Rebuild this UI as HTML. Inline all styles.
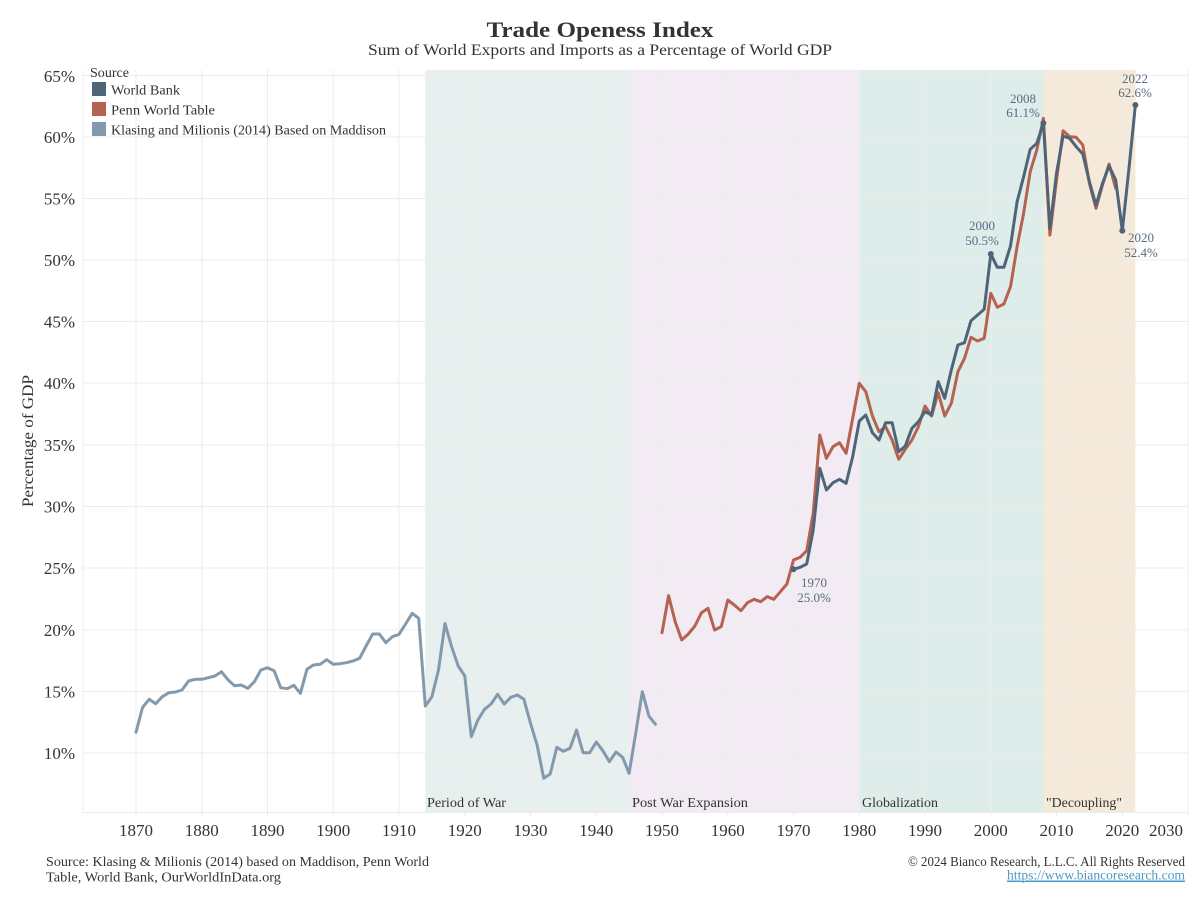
<!DOCTYPE html>
<html><head><meta charset="utf-8"><style>
html,body{margin:0;padding:0;background:#fff;}
svg{display:block;}
text{font-family:"Liberation Serif","DejaVu Serif",serif;fill:#333;}
</style></head><body>
<svg width="1200" height="900" viewBox="0 0 1200 900" xmlns="http://www.w3.org/2000/svg">
<rect width="1200" height="900" fill="#fff"/>
<!-- shaded bands -->
<rect x="425.3" y="70" width="203.8" height="742.5" fill="#e7f0ee"/>
<rect x="629.1" y="70" width="230.2" height="742.5" fill="#f2ebf3"/>
<rect x="859.3" y="70" width="184.1" height="742.5" fill="#dfedea"/>
<rect x="1043.4" y="70" width="92" height="742.5" fill="#f5eada"/>
<!-- gridlines -->
<g stroke="#ececec" stroke-width="1">
<line x1="83" y1="75.5" x2="1188" y2="75.5"/>
<line x1="83" y1="137" x2="1188" y2="137"/>
<line x1="83" y1="198.5" x2="1188" y2="198.5"/>
<line x1="83" y1="260" x2="1188" y2="260"/>
<line x1="83" y1="321.5" x2="1188" y2="321.5"/>
<line x1="83" y1="383" x2="1188" y2="383"/>
<line x1="83" y1="445" x2="1188" y2="445"/>
<line x1="83" y1="506.5" x2="1188" y2="506.5"/>
<line x1="83" y1="568" x2="1188" y2="568"/>
<line x1="83" y1="630" x2="1188" y2="630"/>
<line x1="83" y1="691.5" x2="1188" y2="691.5"/>
<line x1="83" y1="753" x2="1188" y2="753"/>
<line x1="83" y1="812.5" x2="1188" y2="812.5"/>
<line x1="83" y1="70" x2="83" y2="812.5"/>
<line x1="136" y1="70" x2="136" y2="817"/>
<line x1="201.8" y1="70" x2="201.8" y2="817"/>
<line x1="267.5" y1="70" x2="267.5" y2="817"/>
<line x1="333.3" y1="70" x2="333.3" y2="817"/>
<line x1="399" y1="70" x2="399" y2="817"/>
<line x1="464.8" y1="70" x2="464.8" y2="817"/>
<line x1="530.5" y1="70" x2="530.5" y2="817"/>
<line x1="596.3" y1="70" x2="596.3" y2="817"/>
<line x1="662" y1="70" x2="662" y2="817"/>
<line x1="727.8" y1="70" x2="727.8" y2="817"/>
<line x1="793.5" y1="70" x2="793.5" y2="817"/>
<line x1="859.3" y1="70" x2="859.3" y2="817"/>
<line x1="925" y1="70" x2="925" y2="817"/>
<line x1="990.8" y1="70" x2="990.8" y2="817"/>
<line x1="1056.5" y1="70" x2="1056.5" y2="817"/>
<line x1="1122.3" y1="70" x2="1122.3" y2="817"/>
<line x1="1188" y1="70" x2="1188" y2="817"/>
</g>
<!-- band labels -->
<g font-size="14">
<text x="427" y="807" textLength="79" lengthAdjust="spacingAndGlyphs">Period of War</text>
<text x="632" y="807" textLength="116" lengthAdjust="spacingAndGlyphs">Post War Expansion</text>
<text x="862" y="807" textLength="76" lengthAdjust="spacingAndGlyphs">Globalization</text>
<text x="1046" y="807" textLength="76" lengthAdjust="spacingAndGlyphs">"Decoupling"</text>
</g>
<!-- series -->
<g fill="none" stroke-width="3" stroke-linejoin="round" stroke-linecap="round">
<polyline stroke="#8399ac" points="136,732.3 142.6,707.3 149.2,699.3 155.7,703.7 162.3,696.7 168.9,692.7 175.5,692 182,690 188.6,681 195.2,679.3 201.8,679.3 208.3,677.7 214.9,676 221.5,671.7 228.1,680 234.6,685.7 241.2,685 247.8,688.3 254.4,681.7 260.9,670 267.5,667.7 274.1,670.7 280.7,687.7 287.2,688.7 293.8,685.3 300.4,693.3 307,669.3 313.5,665 320.1,664.3 326.7,659.7 333.3,664.3 339.8,663.7 346.4,662.7 353,661 359.6,658.3 366.1,646 372.7,634 379.3,634 385.9,642.7 392.4,636.7 399,634.3 405.6,624 412.2,613.3 418.7,618.3 425.3,706 431.9,696.7 438.5,670 445,623.5 451.6,646.7 458.2,666 464.8,676 471.3,736.7 477.9,720 484.5,709.3 491.1,704 497.6,694.3 504.2,704 510.8,697.3 517.4,695 523.9,699.3 530.5,723.3 537.1,745 543.7,778.3 550.2,774 556.8,747.3 563.4,751.3 570,748.3 576.5,730 583.1,752.7 589.7,752.7 596.3,742 602.8,750.7 609.4,761.7 616,752 622.6,757.3 629.1,773.3 635.7,733.3 642.3,691.7 648.9,716 655.4,724.3"/>
<polyline stroke="#b56251" points="662,632.7 668.6,595.7 675.2,621.7 681.7,640 688.3,634 694.9,626 701.5,612.7 708,608.3 714.6,630 721.2,626.7 727.8,600 734.3,605 740.9,610.7 747.5,602.7 754.1,599.3 760.6,601.7 767.2,596.7 773.8,599.3 780.4,591.7 786.9,584 793.5,560 800.1,557.3 806.7,550.7 813.2,513.3 819.8,435 826.4,458.3 833,446.7 839.5,442.7 846.1,453.3 852.7,418.3 859.3,383.3 865.8,391.7 872.4,416 879,431.7 885.6,426.7 892.1,440 898.7,459.3 905.3,449.3 911.9,440 918.4,426.7 925,406 931.6,416 938.2,392.7 944.7,416 951.3,403.3 957.9,371.7 964.5,358.3 971,337.3 977.6,341 984.2,338.3 990.8,293.3 997.3,307.3 1003.9,304 1010.5,286.7 1017.1,246.7 1023.6,213.3 1030.2,171.7 1036.8,150 1043.4,118.3 1049.9,235 1056.5,180 1063.1,130.7 1069.7,136.7 1076.2,137.3 1082.8,145 1089.4,183.3 1096,208.3 1102.5,185 1109.1,164 1115.7,188.3"/>
<polyline stroke="#4e6479" points="793.5,569.3 800.1,567.3 806.7,564 813.2,530 819.8,468.3 826.4,490 833,482.7 839.5,479.3 846.1,483.3 852.7,456.7 859.3,421 865.8,415 872.4,432.7 879,440 885.6,422.7 892.1,422.7 898.7,451.7 905.3,446 911.9,428.3 918.4,421.7 925,411.7 931.6,415 938.2,381.7 944.7,398.3 951.3,370 957.9,345 964.5,342.7 971,320.7 977.6,315 984.2,309.3 990.8,254 997.3,267.3 1003.9,267.3 1010.5,246 1017.1,201.7 1023.6,176.7 1030.2,149.3 1036.8,143.3 1043.4,123.3 1049.9,228.3 1056.5,173.3 1063.1,136 1069.7,138.3 1076.2,146.7 1082.8,154 1089.4,181.7 1096,205 1102.5,183.3 1109.1,166 1115.7,180 1122.3,230.7 1128.8,170 1135.4,105"/>
</g>
<g fill="#4e6479">
<circle cx="793.5" cy="569.3" r="3"/>
<circle cx="990.8" cy="254" r="3"/>
<circle cx="1043.4" cy="123.3" r="3"/>
<circle cx="1122.3" cy="230.7" r="3"/>
<circle cx="1135.4" cy="105" r="3"/>
</g>
<!-- annotations -->
<g font-size="13" text-anchor="middle" style="fill:#546c85">
<text x="814" y="587" style="fill:#546c85">1970</text>
<text x="814" y="602" style="fill:#546c85">25.0%</text>
<text x="982" y="230" style="fill:#546c85">2000</text>
<text x="982" y="245" style="fill:#546c85">50.5%</text>
<text x="1023" y="103" style="fill:#546c85">2008</text>
<text x="1023" y="117" style="fill:#546c85">61.1%</text>
<text x="1135" y="83" style="fill:#546c85">2022</text>
<text x="1135" y="97" style="fill:#546c85">62.6%</text>
<text x="1141" y="242" style="fill:#546c85">2020</text>
<text x="1141" y="257" style="fill:#546c85">52.4%</text>
</g>
<!-- y tick labels -->
<g font-size="17" text-anchor="end">
<text x="75" y="82">65%</text>
<text x="75" y="143">60%</text>
<text x="75" y="204.5">55%</text>
<text x="75" y="266">50%</text>
<text x="75" y="327.5">45%</text>
<text x="75" y="389">40%</text>
<text x="75" y="451">35%</text>
<text x="75" y="512.5">30%</text>
<text x="75" y="574">25%</text>
<text x="75" y="636">20%</text>
<text x="75" y="697.5">15%</text>
<text x="75" y="759">10%</text>
</g>
<!-- x tick labels -->
<g font-size="17" text-anchor="middle">
<text x="136" y="836">1870</text>
<text x="201.8" y="836">1880</text>
<text x="267.5" y="836">1890</text>
<text x="333.3" y="836">1900</text>
<text x="399" y="836">1910</text>
<text x="464.8" y="836">1920</text>
<text x="530.5" y="836">1930</text>
<text x="596.3" y="836">1940</text>
<text x="662" y="836">1950</text>
<text x="727.8" y="836">1960</text>
<text x="793.5" y="836">1970</text>
<text x="859.3" y="836">1980</text>
<text x="925" y="836">1990</text>
<text x="990.8" y="836">2000</text>
<text x="1056.5" y="836">2010</text>
<text x="1122.3" y="836">2020</text>
<text x="1166" y="836">2030</text>
</g>
<!-- y axis title -->
<text transform="translate(33,441) rotate(-90)" font-size="16" text-anchor="middle" textLength="132" lengthAdjust="spacingAndGlyphs">Percentage of GDP</text>
<!-- titles -->
<text x="600" y="37" font-size="22" font-weight="bold" text-anchor="middle" textLength="227" lengthAdjust="spacingAndGlyphs">Trade Openess Index</text>
<text x="600" y="55" font-size="16" text-anchor="middle" textLength="464" lengthAdjust="spacingAndGlyphs">Sum of World Exports and Imports as a Percentage of World GDP</text>
<!-- legend -->
<text x="90" y="77" font-size="14" textLength="39" lengthAdjust="spacingAndGlyphs">Source</text>
<rect x="92" y="82" width="14" height="14" fill="#4e6479"/>
<rect x="92" y="102" width="14" height="14" fill="#b56251"/>
<rect x="92" y="122" width="14" height="14" fill="#8399ac"/>
<text x="111" y="94.5" font-size="14" textLength="69" lengthAdjust="spacingAndGlyphs">World Bank</text>
<text x="111" y="114.5" font-size="14" textLength="104" lengthAdjust="spacingAndGlyphs">Penn World Table</text>
<text x="111" y="134.5" font-size="14" textLength="275" lengthAdjust="spacingAndGlyphs">Klasing and Milionis (2014) Based on Maddison</text>
<!-- footer -->
<text x="46" y="866" font-size="13.5" textLength="383" lengthAdjust="spacingAndGlyphs">Source: Klasing &amp; Milionis (2014) based on Maddison, Penn World</text>
<text x="46" y="881.5" font-size="13.5" textLength="235" lengthAdjust="spacingAndGlyphs">Table, World Bank, OurWorldInData.org</text>
<text x="1185" y="866" font-size="13.5" text-anchor="end" textLength="277" lengthAdjust="spacingAndGlyphs">© 2024 Bianco Research, L.L.C. All Rights Reserved</text>
<text x="1185" y="879.5" font-size="13.5" text-anchor="end" textLength="178" lengthAdjust="spacingAndGlyphs" style="fill:#4b9ac6" text-decoration="underline">https://www.biancoresearch.com</text>
<line x1="1007.5" y1="881.5" x2="1185" y2="881.5" stroke="#4b9ac6" stroke-width="1"/>
</svg>
</body></html>
